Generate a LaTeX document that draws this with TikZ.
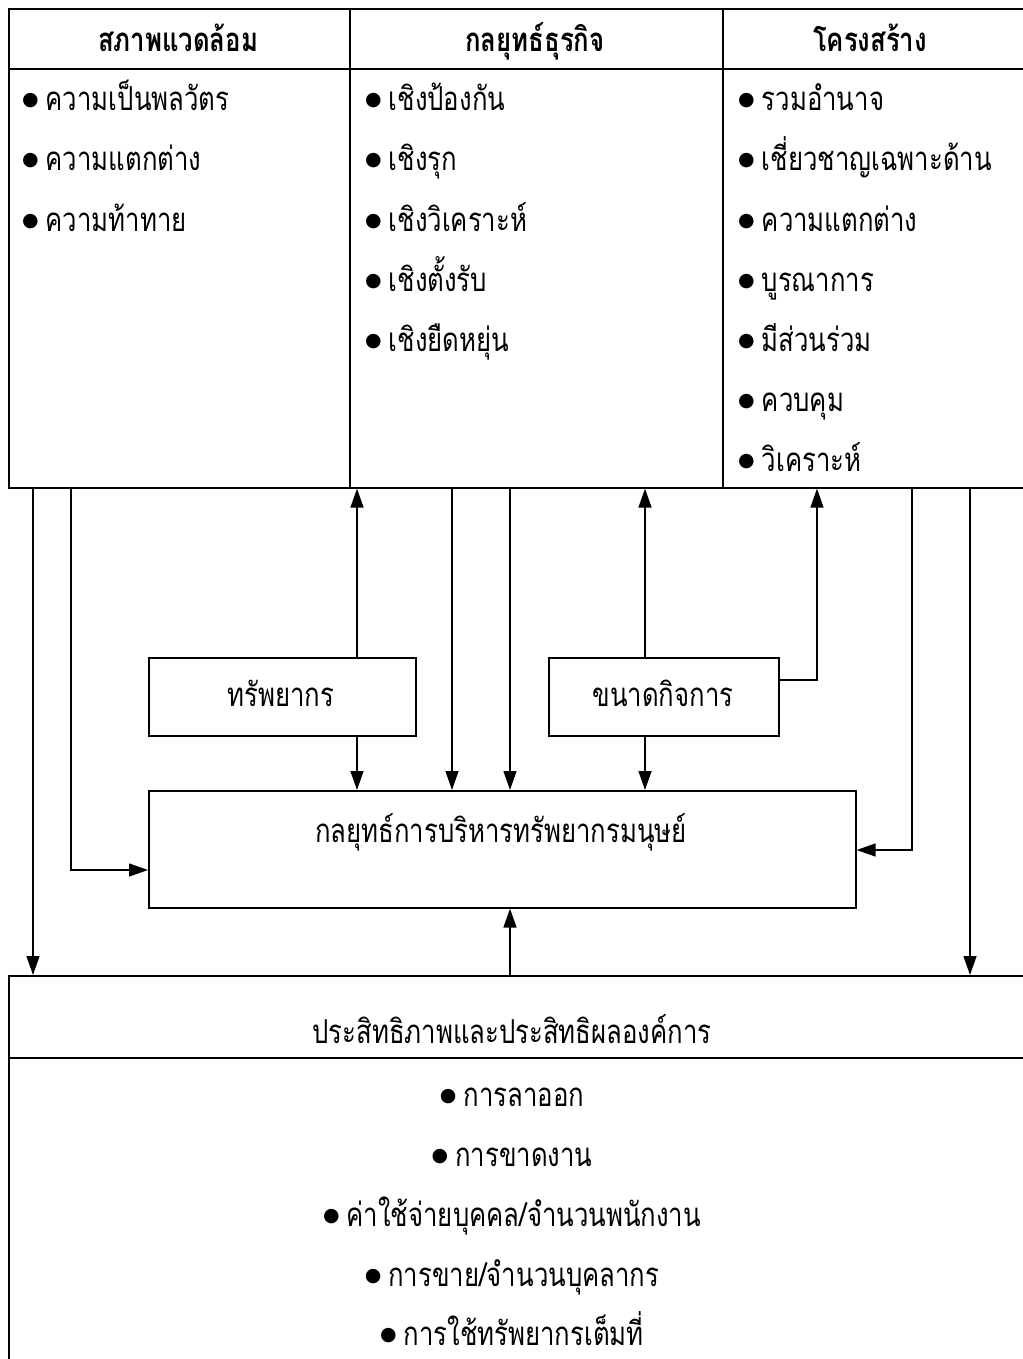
\documentclass[tikz,border=0pt]{standalone}
\usepackage{fontspec}
\usetikzlibrary{arrows.meta,positioning,calc}
\newfontfamily\thai[Script=Thai,FakeStretch=0.78]{Loma}
\newfontfamily\symf{DejaVu Sans}
\newcommand{\bul}{\raisebox{5pt}{\symf\fontsize{19pt}{19pt}\selectfont ●}\hspace{7pt}}
\begin{document}
\begin{tikzpicture}[x=1pt,y=-1pt,
  box/.style={draw, line width=1.6pt, inner sep=0pt, anchor=north west},
  arr/.style={line width=1.3pt, -{Triangle[length=19pt,width=13pt]}},
  hd/.style={font=\thai\bfseries\fontsize{33pt}{33pt}\selectfont, anchor=base, inner sep=0pt},
  it/.style={font=\thai\fontsize{33pt}{33pt}\selectfont, anchor=base west, inner sep=0pt},
  ct/.style={font=\thai\fontsize{33pt}{33pt}\selectfont, anchor=base, inner sep=0pt}]
\useasboundingbox (0,0) rectangle (1022,1359);
% top table
\node[box, minimum width=341pt, minimum height=60pt] (h1) at (8,8) {};
\node[box, minimum width=373pt, minimum height=60pt] (h2) at (349,8) {};
\node[box, minimum width=310pt, minimum height=60pt] (h3) at (722,8) {};
\node[box, minimum width=341pt, minimum height=419pt] (env) at (8,68) {};
\node[box, minimum width=373pt, minimum height=419pt] (strat) at (349,68) {};
\node[box, minimum width=310pt, minimum height=419pt] (struct) at (722,68) {};
\node[hd] at (178,52) {สภาพแวดล้อม};
\node[hd] at (535,52) {กลยุทธ์ธุรกิจ};
\node[hd] at (870,52) {โครงสร้าง};
% items
\node[it] (e1) at (22,111) {\bul ความเป็นพลวัตร};
\node[it] (e2) at (22,171) {\bul ความแตกต่าง};
\node[it] (e3) at (22,231) {\bul ความท้าทาย};
\node[it] (s1) at (365,111) {\bul เชิงป้องกัน};
\node[it] (s2) at (365,171) {\bul เชิงรุก};
\node[it] (s3) at (365,231) {\bul เชิงวิเคราะห์};
\node[it] (s4) at (365,291) {\bul เชิงตั้งรับ};
\node[it] (s5) at (365,351) {\bul เชิงยืดหยุ่น};
\node[it] (t1) at (738,111) {\bul รวมอำนาจ};
\node[it] (t2) at (738,171) {\bul เชี่ยวชาญเฉพาะด้าน};
\node[it] (t3) at (738,231) {\bul ความแตกต่าง};
\node[it] (t4) at (738,291) {\bul บูรณาการ};
\node[it] (t5) at (738,351) {\bul มีส่วนร่วม};
\node[it] (t6) at (738,411) {\bul ควบคุม};
\node[it] (t7) at (738,471) {\bul วิเคราะห์};
% middle boxes
\node[box, minimum width=267pt, minimum height=78pt] (res) at (148,657) {};
\node[ct] at (281,706) {ทรัพยากร};
\node[box, minimum width=230pt, minimum height=78pt] (size) at (548,657) {};
\node[ct] at (663,706) {ขนาดกิจการ};
\node[box, minimum width=707pt, minimum height=117pt] (hr) at (148,790) {};
\node[ct] at (501,842) {กลยุทธ์การบริหารทรัพยากรมนุษย์};
% bottom box
\node[box, minimum width=1030pt, minimum height=82pt] (perf) at (8,975) {};
\node[box, minimum width=1030pt, minimum height=320pt] (perfb) at (8,1057) {};
\node[ct] at (512,1043) {ประสิทธิภาพและประสิทธิผลองค์การ};
\node[ct] (p1) at (512,1106) {\bul การลาออก};
\node[ct] (p2) at (512,1166) {\bul การขาดงาน};
\node[ct] (p3) at (512,1226) {\bul ค่าใช้จ่ายบุคคล/จำนวนพนักงาน};
\node[ct] (p4) at (512,1286) {\bul การขาย/จำนวนบุคลากร};
\node[ct] (p5) at (512,1345) {\bul การใช้ทรัพยากรเต็มที่};
% x positions
\coordinate (xa) at (33,0);
\coordinate (xb) at (71,0);
\coordinate (xc) at (357,0);
\coordinate (xd) at (452,0);
\coordinate (xe) at (510,0);
\coordinate (xf) at (645,0);
\coordinate (xg) at (817,0);
\coordinate (xh) at (912,0);
\coordinate (xi) at (970,0);
\coordinate (yb) at (0,870);
\coordinate (yg) at (0,680);
\coordinate (yh) at (0,850);
% connectors
\draw[arr] (env.south -| xa) -- (perf.north -| xa);
\draw[arr] (env.south -| xb) |- (hr.west |- yb);
\draw[arr] (res.north -| xc) -- (env.south -| xc);
\draw[arr] (res.south -| xc) -- (hr.north -| xc);
\draw[arr] (strat.south -| xd) -- (hr.north -| xd);
\draw[arr] (strat.south -| xe) -- (hr.north -| xe);
\draw[arr] (size.north -| xf) -- (strat.south -| xf);
\draw[arr] (size.south -| xf) -- (hr.north -| xf);
\draw[arr] (size.east |- yg) -| (struct.south -| xg);
\draw[arr] (struct.south -| xh) |- (hr.east |- yh);
\draw[arr] (struct.south -| xi) -- (perf.north -| xi);
\draw[arr] (perf.north -| xe) -- (hr.south -| xe);
\end{tikzpicture}
\end{document}
